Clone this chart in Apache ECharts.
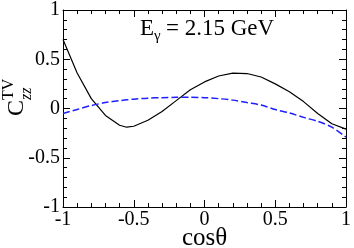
<!DOCTYPE html>
<html><head><meta charset="utf-8">
<script src="https://cdn.jsdelivr.net/npm/echarts@6/dist/echarts.min.js"></script>
<style>html,body{margin:0;padding:0;background:#fff}#c{width:354px;height:248px}</style>
</head><body><div id="c"></div>
<script>
var cosTheta = [-1,-0.9,-0.8,-0.7,-0.6,-0.55,-0.5,-0.4,-0.3,-0.2,-0.1,0,0.1,0.2,0.3,0.4,0.5,0.6,0.7,0.8,0.9,1.0];
var solidVals = [0.70,0.36,0.10,-0.07,-0.17,-0.19,-0.18,-0.12,-0.03,0.08,0.19,0.27,0.33,0.36,0.355,0.32,0.25,0.17,0.07,-0.05,-0.155,-0.21];
var dashedVals = [-0.05,-0.01,0.03,0.06,0.08,0.088,0.095,0.105,0.11,0.113,0.113,0.11,0.10,0.085,0.06,0.035,-0.01,-0.045,-0.09,-0.13,-0.19,-0.29];
var xTicks = [-1,-0.5,0,0.5,1];
var yTicks = [-1,-0.5,0,0.5,1];

var FONT = '"Liberation Serif","Times New Roman",serif';
function pairs(xs, ys){ return xs.map(function(x,i){return [x, ys[i]];}); }
function fmt(v){ return String(v); }

var chart = echarts.init(document.getElementById('c'), null, {renderer:'canvas'});
var axisCommon = {
  type:'value', min:-1, max:1, interval:0.5,
  axisLine:{show:true, onZero:false, lineStyle:{color:'#000', width:1}},
  axisTick:{show:true, inside:true, length:7, lineStyle:{color:'#000', width:1}},
  minorTick:{show:true, splitNumber:5, length:4, lineStyle:{color:'#000', width:1}},
  splitLine:{show:false}
};
function ax(extra){ return Object.assign({}, JSON.parse(JSON.stringify(axisCommon)), extra); }
chart.setOption({
  animation:false,
  grid:{left:63, right:6, top:7, bottom:41, containLabel:false},
  xAxis:[
    ax({position:'bottom', axisLabel:{show:true, margin:3, color:'#000', fontSize:20, fontFamily:FONT, formatter:fmt, showMinLabel:true, showMaxLabel:true}}),
    ax({position:'top', axisLabel:{show:false}})
  ],
  yAxis:[
    ax({position:'left', axisLabel:{show:true, margin:3, color:'#000', fontSize:20, fontFamily:FONT, formatter:fmt, showMinLabel:true, showMaxLabel:true}}),
    ax({position:'right', axisLabel:{show:false}})
  ],
  series:[
    {type:'line', data:pairs(cosTheta, solidVals), symbol:'none', lineStyle:{color:'#000', width:1.2}, xAxisIndex:0, yAxisIndex:0},
    {type:'line', data:pairs(cosTheta, dashedVals), symbol:'none', smooth:0.3, lineStyle:{color:'#1f1fff', width:1.5, type:[7,3]}, xAxisIndex:0, yAxisIndex:0}
  ],
  graphic:[
    {type:'text', left:140, top:17, style:{text:'E', font:'23px '+FONT, fill:'#000'}},
    {type:'text', left:154, top:29, style:{text:'γ', font:'15px '+FONT, fill:'#000'}},
    {type:'text', left:166, top:17, style:{text:'= 2.15 GeV', font:'23px '+FONT, fill:'#000'}},
    {type:'text', x:182, y:226, style:{text:'cosθ', font:'25px '+FONT, fill:'#000'}},
    {type:'group', x:5, y:116, rotation:Math.PI/2, children:[
      {type:'text', x:0, y:0, style:{text:'C', font:'24px '+FONT, fill:'#000'}},
      {type:'text', x:16, y:-4, style:{text:'TV', font:'16px '+FONT, fill:'#000'}},
      {type:'text', x:16, y:14, style:{text:'zz', font:'italic 16px '+FONT, fill:'#000'}}
    ]}
  ]
});
</script></body></html>
